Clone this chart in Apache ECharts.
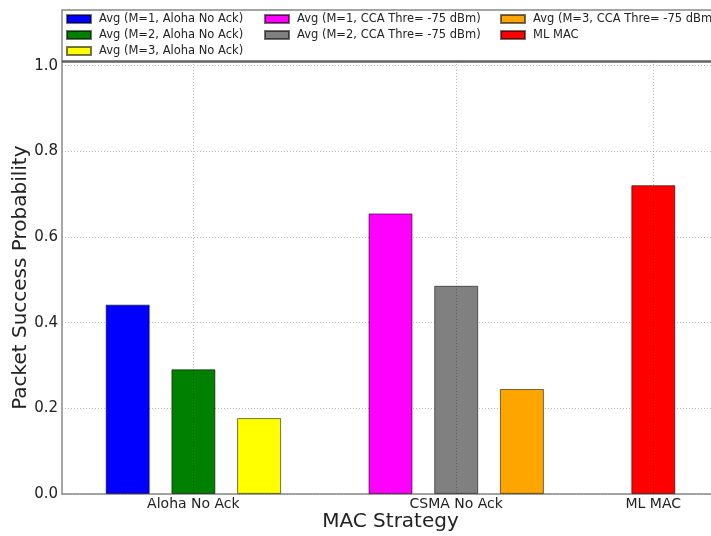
<!DOCTYPE html>
<html>
<head>
<meta charset="utf-8">
<script src="https://cdn.jsdelivr.net/npm/echarts@6/dist/echarts.min.js"></script>
<style>
html,body{margin:0;padding:0;background:#fff;}
#chart{width:711px;height:536px;}
</style>
</head>
<body>
<div id="chart"></div>
<script>
const categories = ['Aloha No Ack', 'CSMA No Ack', 'ML MAC'];
const categoryPositions = [2, 6, 9];
const seriesNames = [
  'Avg (M=1, Aloha No Ack)',
  'Avg (M=2, Aloha No Ack)',
  'Avg (M=3, Aloha No Ack)',
  'Avg (M=1, CCA Thre= -75 dBm)',
  'Avg (M=2, CCA Thre= -75 dBm)',
  'Avg (M=3, CCA Thre= -75 dBm)',
  'ML MAC'
];
const seriesPositions = [1, 2, 3, 5, 6, 7, 9];
const seriesValues = [0.442, 0.291, 0.177, 0.655, 0.486, 0.245, 0.721];
const legendColumns = [
  [0, 1, 2],
  [3, 4],
  [5, 6]
];

const colors = ['#0000ff', '#008000', '#ffff00', '#ff00ff', '#808080', '#ffa500', '#ff0000'];
const FONT = 'DejaVu Sans';

const chart = echarts.init(document.getElementById('chart'), null, {renderer: 'canvas'});

const series = seriesNames.map((name, i) => {
  const s = {
    name: name,
    type: 'bar',
    barWidth: 44,
    barGap: '-100%',
    data: [[seriesPositions[i], seriesValues[i]]],
    itemStyle: {color: colors[i], borderColor: 'rgba(0,0,0,0.55)', borderWidth: 1},
    emphasis: {disabled: true},
    animation: false
  };
  if (i === 0) {
    s.markLine = {
      silent: true,
      symbol: 'none',
      label: {show: false},
      lineStyle: {type: [1, 2], color: 'rgba(0,0,0,0.3)', width: 1},
      data: categoryPositions.map(p => ({xAxis: p})),
      animation: false
    };
  }
  return s;
});

const legendLefts = [61, 259, 495];
const legends = legendColumns.map((col, ci) => ({
  left: legendLefts[ci],
  top: 7,
  orient: 'vertical',
  icon: 'rect',
  itemWidth: 24,
  itemHeight: 8,
  itemGap: 2,
  selectedMode: false,
  data: col.map(i => seriesNames[i]),
  textStyle: {fontFamily: FONT, fontSize: 11.5, color: '#222', lineHeight: 14, padding: [0, 0, 0, 3]}
}));

chart.setOption({
  backgroundColor: '#fff',
  animation: false,
  legend: legends,
  grid: {left: 62, top: 61.4, width: 657, height: 432.5, containLabel: false, outerBoundsMode: 'none'},
  xAxis: {
    type: 'value',
    min: 0,
    max: 10,
    interval: 1,
    name: 'MAC Strategy',
    nameLocation: 'middle',
    nameGap: 18,
    nameMoveOverlap: false,
    nameTextStyle: {fontFamily: FONT, fontSize: 20, color: '#222', verticalAlign: 'top'},
    axisLine: {show: true, lineStyle: {color: '#888', width: 1.5}},
    axisTick: {show: false},
    splitLine: {show: false},
    axisLabel: {
      fontFamily: FONT, fontSize: 14, color: '#222', margin: 3,
      showMinLabel: true, showMaxLabel: true,
      formatter: function (v) {
        const k = categoryPositions.indexOf(Math.round(v));
        return (k >= 0 && Math.abs(v - Math.round(v)) < 1e-6) ? categories[k] : '';
      }
    }
  },
  yAxis: {
    type: 'value',
    min: 0,
    max: 1.01,
    interval: 0.2,
    name: 'Packet Success Probability',
    nameLocation: 'middle',
    nameGap: 31,
    nameMoveOverlap: false,
    nameTextStyle: {fontFamily: FONT, fontSize: 20, color: '#222'},
    axisLine: {show: true, lineStyle: {color: '#888', width: 1.5}},
    axisTick: {show: false},
    splitLine: {show: true, lineStyle: {type: [1, 2], color: '#bbb', width: 1}},
    axisLabel: {
      fontFamily: FONT, fontSize: 15, color: '#222', margin: 4,
      formatter: function (v) {
        const r = Math.round(v * 5);
        return Math.abs(v * 5 - r) < 1e-6 ? (r / 5).toFixed(1) : '';
      }
    }
  },
  graphic: [
    {
      type: 'rect', silent: true, z: 100,
      shape: {x: 62, y: 10, width: 700, height: 51.5},
      style: {fill: 'none', stroke: '#888', lineWidth: 1.5}
    },
    {
      type: 'line', silent: true, z: 101,
      shape: {x1: 62, y1: 61.5, x2: 720, y2: 61.5},
      style: {stroke: '#666', lineWidth: 2.5}
    }
  ],
  series: series
});
</script>
</body>
</html>
